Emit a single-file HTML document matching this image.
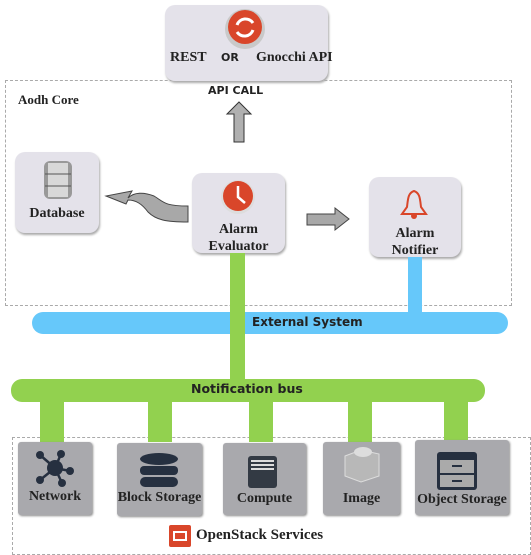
<!DOCTYPE html>
<html><head><style>
body{margin:0;width:531px;height:554px;background:#fff;position:relative;overflow:hidden;font-family:"Liberation Serif",serif;color:#222;}
.a{position:absolute}
.box{position:absolute;background:#e4e2ea;border-radius:10px;box-shadow:1px 2px 2px #aaa;}
.svc{position:absolute;background:#a9a9ad;border-radius:3px;box-shadow:1px 1px 2px #888;}
.t{position:absolute;font-weight:bold;font-size:13px;text-align:center;white-space:nowrap}
.s{font-family:"DejaVu Sans",sans-serif;font-weight:bold}
</style></head><body>
<div class="a" style="left:5px;top:80px;width:505px;height:224px;border:1px dashed #aaa"></div>
<div class="a" style="left:12px;top:437px;width:517px;height:116px;border:1px dashed #aaa"></div>

<div class="box" style="left:165px;top:5px;width:163px;height:76px"></div>
<svg class="a" style="left:224px;top:8px" width="42" height="42"><circle cx="21" cy="21" r="20" fill="#c9c9c9"/><circle cx="21" cy="19" r="17" fill="#d9462a"/><path d="M13 17 A9 9 0 0 1 29 15 M29 22 A9 9 0 0 1 13 24" stroke="#fff" stroke-width="3" fill="none"/></svg>
<div class="t" style="left:170px;top:50px;font-size:14px">REST</div>
<div class="t s" style="left:221px;top:51px;font-size:11px">OR</div>
<div class="t" style="left:256px;top:50px;font-size:14px">Gnocchi API</div>
<div class="t s" style="left:208px;top:84px;font-size:11px">API CALL</div>
<svg class="a" style="left:225px;top:101px" width="28" height="43"><polygon points="14,1 26,13 19,13 19,41 9,41 9,13 2,13" fill="#b0b0b0" stroke="#333"/></svg>
<div class="t" style="left:18px;top:92px;font-size:13px">Aodh Core</div>

<div class="box" style="left:15px;top:152px;width:84px;height:81px"></div>
<svg class="a" style="left:42px;top:159px" width="32" height="42"><rect x="2" y="2" width="28" height="38" rx="6" fill="#999"/><rect x="6" y="4" width="20" height="34" fill="#d8d8d8"/><path d="M3 15H29M3 27H29" stroke="#555"/></svg>
<div class="t" style="left:15px;top:206px;width:84px;font-size:14px">Database</div>
<svg class="a" style="left:104px;top:188px" width="86" height="36"><path d="M84 18 C60 18 60 14 50 8 C40 4 30 4 24 10 L28 3 L2 8 L22 16 L24 12 C32 12 38 16 44 24 C52 32 62 34 84 34 Z" fill="#a8a8a8" stroke="#444"/></svg>

<div class="box" style="left:192px;top:173px;width:93px;height:80px"></div>
<svg class="a" style="left:220px;top:179px" width="36" height="36"><circle cx="18" cy="18" r="17" fill="#ddd"/><circle cx="18" cy="17" r="15" fill="#d9462a"/><path d="M18 7V18L25 24" stroke="#fff" stroke-width="2.5" fill="none"/></svg>
<div class="t" style="left:192px;top:221px;width:93px;line-height:17px;font-size:14px">Alarm<br>Evaluator</div>
<svg class="a" style="left:305px;top:207px" width="46" height="25"><polygon points="2,7 30,7 30,1 44,12 30,23 30,18 2,18" fill="#a8a8a8" stroke="#444"/></svg>

<div class="box" style="left:369px;top:177px;width:92px;height:80px"></div>
<svg class="a" style="left:399px;top:189px" width="30" height="30"><path d="M15 2 C9 4 9 10 8 18 L3 25 H27 L22 18 C21 10 21 4 15 2Z" fill="none" stroke="#d9462a" stroke-width="2"/><circle cx="15" cy="27" r="3" fill="#d9462a"/></svg>
<div class="t" style="left:369px;top:225px;width:92px;line-height:17px;font-size:14px">Alarm<br>Notifier</div>

<div class="a" style="left:408px;top:257px;width:14px;height:60px;background:#66c8fa"></div>
<div class="a" style="left:32px;top:312px;width:476px;height:22px;border-radius:11px;background:#66c8fa"></div>
<div class="a" style="left:230px;top:253px;width:15px;height:130px;background:#92d14f"></div>
<div class="t s" style="left:252px;top:315px;font-size:12px">External System</div>
<div class="a" style="left:11px;top:379px;width:474px;height:23px;border-radius:11px;background:#92d14f"></div>
<div class="t s" style="left:191px;top:381px;font-size:12.5px">Notification bus</div>
<div class="a" style="left:40px;top:400px;width:24px;height:42px;background:#92d14f"></div>
<div class="a" style="left:148px;top:400px;width:24px;height:42px;background:#92d14f"></div>
<div class="a" style="left:249px;top:400px;width:24px;height:42px;background:#92d14f"></div>
<div class="a" style="left:348px;top:400px;width:24px;height:42px;background:#92d14f"></div>
<div class="a" style="left:444px;top:400px;width:24px;height:40px;background:#92d14f"></div>

<div class="svc" style="left:18px;top:442px;width:74px;height:73px"></div>
<svg class="a" style="left:32px;top:448px" width="46" height="40"><g stroke="#263040" stroke-width="2.5"><line x1="23" y1="20" x2="8" y2="7"/><line x1="23" y1="20" x2="29" y2="6"/><line x1="23" y1="20" x2="38" y2="23"/><line x1="23" y1="20" x2="8" y2="32"/><line x1="23" y1="20" x2="30" y2="35"/></g><g fill="#263040"><circle cx="23" cy="20" r="8"/><circle cx="8" cy="7" r="4"/><circle cx="29" cy="6" r="4"/><circle cx="38" cy="23" r="4"/><circle cx="8" cy="32" r="4"/><circle cx="30" cy="35" r="4"/></g></svg>
<div class="t" style="left:18px;top:489px;width:74px;font-size:14px">Network</div>

<div class="svc" style="left:117px;top:443px;width:85px;height:73px"></div>
<svg class="a" style="left:138px;top:452px" width="42" height="38"><g fill="#263040"><ellipse cx="21" cy="7" rx="19" ry="6"/><rect x="2" y="14" width="38" height="9" rx="4"/><rect x="2" y="25" width="38" height="10" rx="5"/></g></svg>
<div class="t" style="left:117px;top:490px;width:85px;font-size:14px">Block Storage</div>

<div class="svc" style="left:223px;top:443px;width:83px;height:72px"></div>
<svg class="a" style="left:247px;top:455px" width="32" height="34"><rect x="1" y="1" width="29" height="32" rx="3" fill="#333a44"/><path d="M4 6H27M4 10H27M4 14H27" stroke="#ddd" stroke-width="2"/></svg>
<div class="t" style="left:223px;top:491px;width:83px;font-size:14px">Compute</div>

<div class="svc" style="left:323px;top:442px;width:77px;height:73px"></div>
<svg class="a" style="left:341px;top:444px" width="42" height="40"><path d="M4 12 L20 6 L38 10 L38 32 L20 38 L4 32Z" fill="#b8b8b8" stroke="#ddd"/><ellipse cx="22" cy="8" rx="9" ry="5" fill="#ddd"/></svg>
<div class="t" style="left:323px;top:491px;width:77px;font-size:14px">Image</div>

<div class="svc" style="left:415px;top:440px;width:94px;height:75px"></div>
<svg class="a" style="left:436px;top:451px" width="42" height="40"><rect x="1" y="1" width="40" height="38" rx="3" fill="#263040"/><rect x="4" y="9" width="34" height="13" fill="#aaa"/><rect x="4" y="24" width="34" height="12" fill="#aaa"/><path d="M16 15H26M16 30H26" stroke="#263040" stroke-width="2"/></svg>
<div class="t" style="left:411px;top:492px;width:102px;font-size:14px">Object Storage</div>

<svg class="a" style="left:169px;top:525px" width="22" height="22"><rect width="22" height="22" rx="2" fill="#d9462a"/><rect x="5" y="7" width="12" height="8" fill="none" stroke="#fff" stroke-width="2"/></svg>
<div class="t" style="left:196px;top:527px;font-size:15px">OpenStack Services</div>
</body></html>
